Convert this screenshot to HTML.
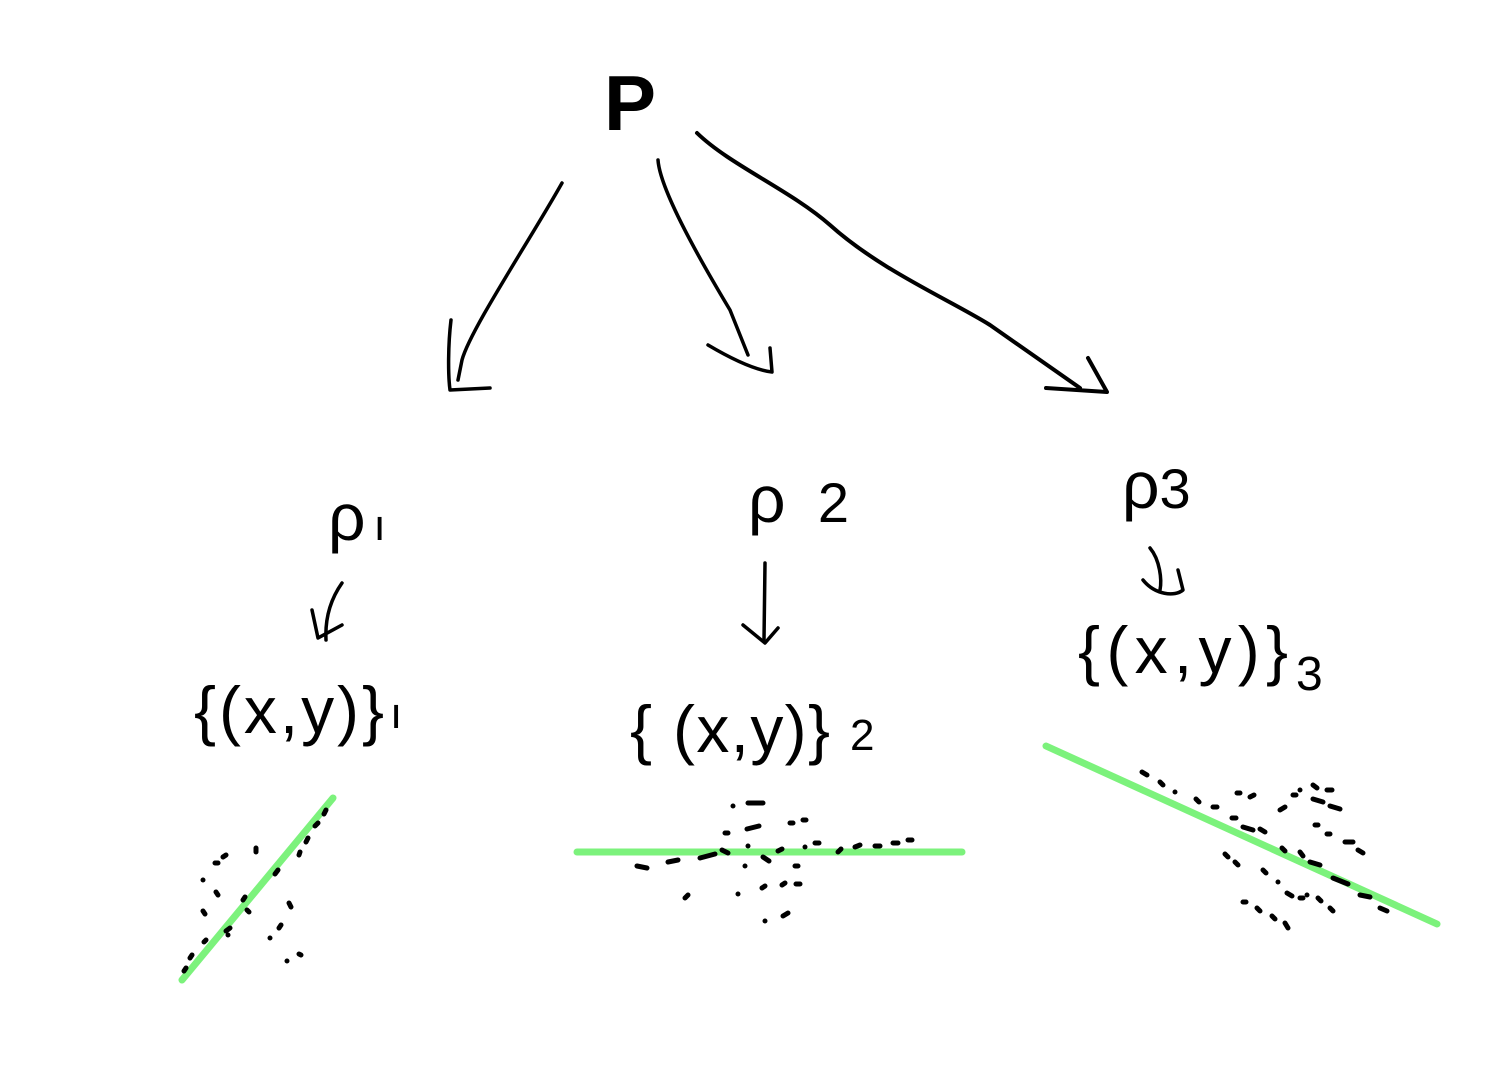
<!DOCTYPE html>
<html><head><meta charset="utf-8"><style>
html,body{margin:0;padding:0;background:#fff}
svg{display:block}
.h{font-family:"Liberation Sans",sans-serif;fill:#000}
</style></head><body>
<svg width="1500" height="1073" viewBox="0 0 1500 1073" xmlns="http://www.w3.org/2000/svg">
<rect width="1500" height="1073" fill="#fff"/>
<text x="604" y="130" class="h" font-size="78" font-weight="bold">P</text>
<g fill="none" stroke="#000" stroke-width="3.5" stroke-linecap="round" stroke-linejoin="round">
<path d="M562,183 C530,240 470,330 462,360 L458,380"/>
<path d="M451,320 C448,345 448,375 450,390 L490,388"/>
<path d="M658,160 C660,190 700,260 730,310 L748,355"/>
<path d="M708,345 C730,358 755,370 772,372 L770,348"/>
<path d="M697,133 C730,165 790,190 830,225 C880,270 950,300 990,325 L1080,388" stroke-width="4"/>
<path d="M1046,388 L1107,392 L1088,358" stroke-width="4"/>
<path d="M342,583 C330,600 325,620 326,640"/>
<path d="M312,610 L318,638 L342,625"/>
<path d="M765,563 L764,640"/>
<path d="M743,625 L765,643 L778,628"/>
<path d="M1150,548 C1160,560 1162,580 1160,590"/>
<path d="M1143,580 C1155,595 1175,597 1183,590 L1178,570"/>
</g>
<g class="h" font-size="66">
<text x="328" y="540">ρ<tspan font-size="44" dx="8">ı</tspan></text>
<text x="748" y="522">ρ <tspan dx="14" font-size="56">2</tspan></text>
<text x="1122" y="508">ρ<tspan font-size="56">3</tspan></text>
<text x="194" y="733" textLength="190" lengthAdjust="spacing">{(x,y)}</text>
<text x="390" y="728" font-size="44">ı</text>
<text x="630" y="752" textLength="200" lengthAdjust="spacing">{ (x,y)}</text>
<text x="850" y="750" font-size="44">2</text>
<text x="1078" y="673" textLength="210" lengthAdjust="spacing">{(x,y)}</text>
<text x="1296" y="690" font-size="48">3</text>
</g>
<g stroke="#7cf27c" stroke-width="7" stroke-linecap="round">
<line x1="182" y1="980" x2="333" y2="798"/>
<line x1="577" y1="852" x2="962" y2="852"/>
<line x1="1046" y1="746" x2="1437" y2="924"/>
</g>
<g stroke="#000" stroke-width="5" stroke-linecap="round">
<path d="M326,810l-2,4M318,823l-3,3M308,838l-2,4M300,852l-1,3M278,870l-3,4M256,848l0,4M226,855l-3,2M218,863l-3,0M203,880l0,0M218,895l-2,-3M245,897l-2,3M205,914l-2,-3M249,912l-2,-2M291,907l-2,-4M281,925l-2,3M270,938l0,0M230,928l-4,3M301,955l-2,-1M287,961l0,0M228,935l0,0M206,940l-2,2M192,955l-2,3M186,968l-2,3"/>
<path d="M748,803l15,0M733,806l0,0M747,829l12,-3M725,833l3,0M790,823l3,0M803,820l3,0M637,866l10,2M668,862l10,-2M700,858l15,-4M722,850l6,3M748,846l0,0M763,857l6,4M778,851l4,-2M805,847l0,0M815,843l4,0M838,852l3,-3M855,847l5,-2M875,846l5,0M893,843l5,0M908,840l4,0M685,898l3,-3M738,894l0,0M762,888l3,-2M782,885l3,-2M796,884l4,0M765,921l0,0M783,916l5,-3M745,866l0,0M795,866l3,0"/>
<path d="M1142,772l5,3M1160,782l3,3M1175,792l0,0M1196,799l3,3M1213,807l4,0M1237,793l3,0M1250,797l4,-2M1243,827l10,3M1260,829l5,3M1232,818l4,0M1280,810l5,-3M1293,795l3,0M1300,790l0,0M1313,785l4,3M1327,790l5,0M1313,799l10,3M1330,806l10,3M1315,825l3,0M1327,834l3,0M1345,842l8,0M1358,850l5,3M1282,848l3,3M1300,852l3,4M1310,862l10,3M1333,878l15,6M1360,895l10,2M1380,908l7,3M1225,854l3,3M1235,862l3,3M1263,870l3,3M1278,882l0,0M1287,893l5,3M1307,895l0,0M1330,908l3,3M1243,902l3,0M1257,908l3,3M1272,916l3,3M1285,923l3,5M1300,898l3,0M1318,898l3,3"/>
</g>
</svg>
</body></html>
